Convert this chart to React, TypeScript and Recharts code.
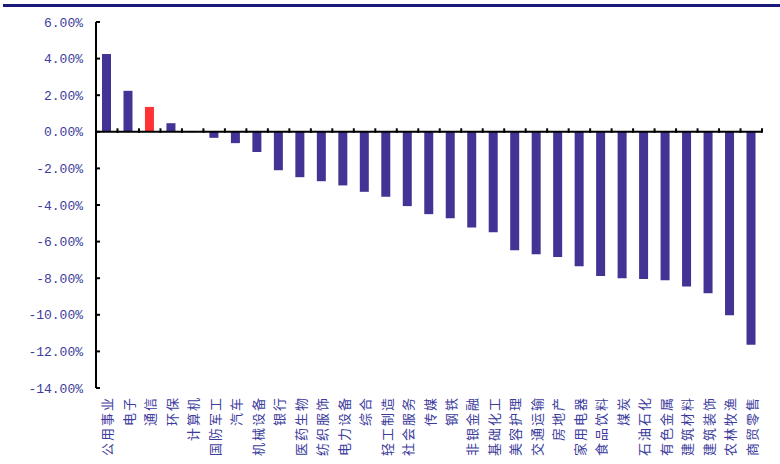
import React from 'react';
import { BarChart, Bar, XAxis, YAxis, Cell, ReferenceLine } from 'recharts';

const categories = [
  '公用事业', '电子', '通信', '环保', '计算机', '国防军工', '汽车', '机械设备', '银行', '医药生物',
  '纺织服饰', '电力设备', '综合', '轻工制造', '社会服务', '传媒', '钢铁', '非银金融', '基础化工', '美容护理',
  '交通运输', '房地产', '家用电器', '食品饮料', '煤炭', '石油石化', '有色金属', '建筑材料', '建筑装饰', '农林牧渔', '商贸零售',
];
const values = [
  4.25, 2.24, 1.36, 0.47, -0.02, -0.33, -0.62, -1.1, -2.1, -2.48,
  -2.7, -2.93, -3.28, -3.55, -4.06, -4.5, -4.72, -5.23, -5.49, -6.47,
  -6.69, -6.84, -7.35, -7.88, -8.0, -8.05, -8.11, -8.46, -8.82, -10.02, -11.63,
];
const highlighted = '通信';
const yTicks = [6, 4, 2, 0, -2, -4, -6, -8, -10, -12, -14];

const data = categories.map((name, i) => ({ name, value: values[i] }));

const LABEL_COLOR = '#3c3c9c';
const BAR_COLOR = '#433394';
const HIGHLIGHT_COLOR = '#ff3333';

const XTick = (props: any) => {
  const { x, y, payload } = props;
  return (
    <text
      x={x}
      y={y}
      transform={`rotate(-90, ${x}, ${y})`}
      textAnchor="end"
      dominantBaseline="central"
      fill={LABEL_COLOR}
      fontSize={13}
      letterSpacing={2}
      fontFamily="'Noto Sans CJK SC', sans-serif"
    >
      {payload.value}
    </text>
  );
};

const ZeroAxis = (props: any) => {
  const { x1, y1, x2 } = props;
  const n = categories.length;
  const step = (x2 - x1) / n;
  const ticks = [];
  for (let i = 1; i <= n; i++) {
    const tx = x1 + step * i;
    ticks.push(<line key={i} x1={tx} x2={tx} y1={y1 - 3.5} y2={y1 + 1} stroke="#000" strokeWidth={2} />);
  }
  return (
    <g>
      <line x1={x1} x2={x2} y1={y1} y2={y1} stroke="#000" strokeWidth={2} />
      {ticks}
    </g>
  );
};

export default function App() {
  return (
    <div style={{ position: 'absolute', left: 0, top: 0, width: 780, height: 464, background: '#fff' }}>
      <div style={{ position: 'absolute', left: 3, top: 4, width: 777, height: 3, background: '#1c1a78' }} />
      <BarChart
        width={780}
        height={464}
        data={data}
        margin={{ top: 22, right: 18, bottom: 0, left: 0 }}
        barSize={9}
      >
        <YAxis
          width={96}
          domain={[-14, 6]}
          ticks={yTicks}
          interval={0}
          allowDataOverflow
          axisLine={{ stroke: '#000', strokeWidth: 2 }}
          tickLine={{ stroke: '#000', strokeWidth: 2 }}
          tickSize={-4}
          tickMargin={17}
          tickFormatter={(v: number) => `${v.toFixed(2)}%`}
          tick={{ fill: LABEL_COLOR, fontSize: 13, fontFamily: "'Liberation Mono', monospace" }}
        />
        <XAxis
          dataKey="name"
          height={76}
          interval={0}
          axisLine={false}
          tickLine={false}
          tick={<XTick />}
        />
        <Bar dataKey="value" isAnimationActive={false}>
          {data.map((d) => (
            <Cell key={d.name} fill={d.name === highlighted ? HIGHLIGHT_COLOR : BAR_COLOR} />
          ))}
        </Bar>
        <ReferenceLine y={0} shape={<ZeroAxis />} />
      </BarChart>
    </div>
  );
}
